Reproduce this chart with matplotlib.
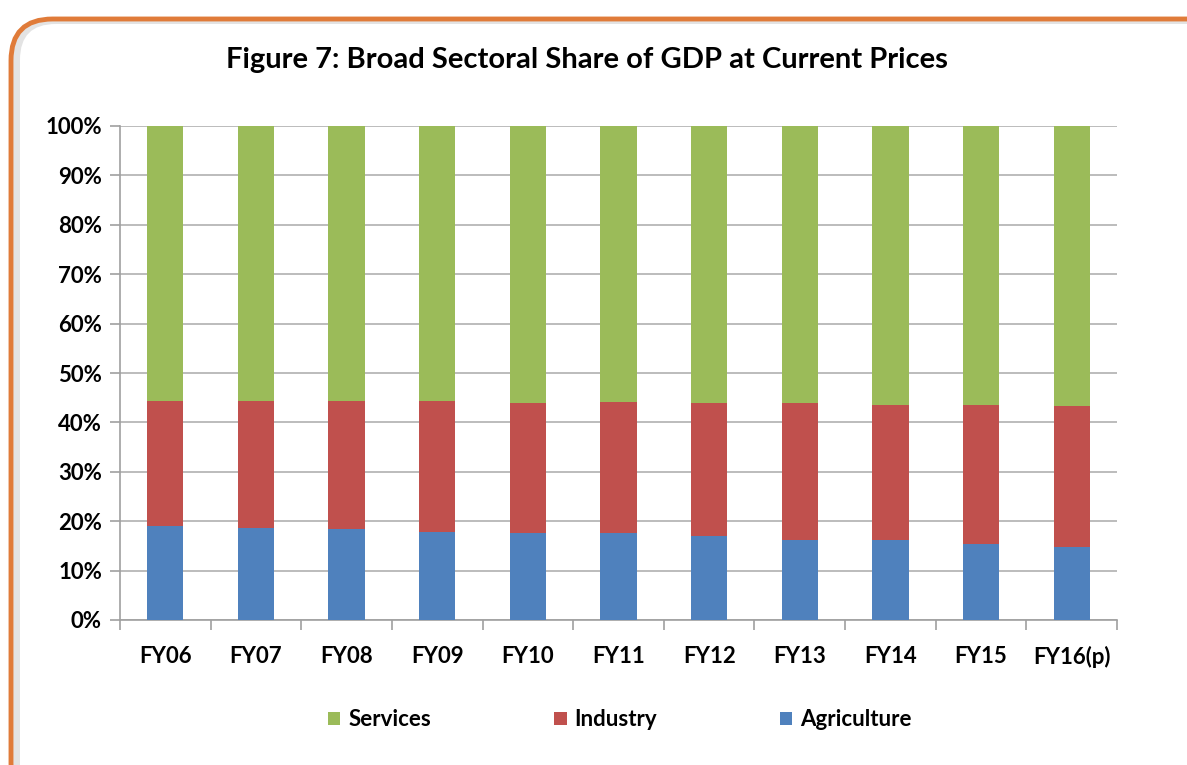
import numpy as np
import matplotlib.pyplot as plt
from matplotlib.patches import FancyBboxPatch
from matplotlib.ticker import FixedLocator, PercentFormatter

plt.rcParams['font.family'] = ['Lato', 'DejaVu Sans']

years = ['FY06', 'FY07', 'FY08', 'FY09', 'FY10', 'FY11',
         'FY12', 'FY13', 'FY14', 'FY15', 'FY16(p)']
agriculture = [19.0, 18.7, 18.4, 17.9, 17.6, 17.6, 17.1, 16.1, 16.1, 15.3, 14.8]
industry_top = [44.4, 44.4, 44.4, 44.4, 43.9, 44.1, 43.9, 43.9, 43.6, 43.6, 43.3]
industry = [t - a for t, a in zip(industry_top, agriculture)]
services = [100 - t for t in industry_top]

c_agri = '#4f81bd'
c_ind = '#c0504d'
c_serv = '#9bbb59'

fig = plt.figure(figsize=(11.87, 7.65), dpi=100)

# rounded orange frame with a soft inner shadow on the left
W, H = 1187, 765
frame = FancyBboxPatch((11 / W, -40 / H), 1250 / W, 786 / H,
                       boxstyle='round,pad=0,rounding_size=0.035',
                       transform=fig.transFigure, facecolor='#e3e3e3',
                       edgecolor='#e07b39', linewidth=3.5, zorder=0,
                       mutation_aspect=W / H)
fig.patches.append(frame)
inner = FancyBboxPatch((20 / W, -40 / H), 1250 / W, 781 / H,
                       boxstyle='round,pad=0,rounding_size=0.03',
                       transform=fig.transFigure, facecolor='white',
                       edgecolor='none', zorder=0.5, mutation_aspect=W / H)
fig.patches.append(inner)

ax = fig.add_axes([120 / W, 1 - 620 / H, 997 / W, 494 / H])
ax.set_zorder(2)
ax.patch.set_alpha(0)

x = np.arange(len(years))
w = 0.4
b1 = ax.bar(x, agriculture, w, color=c_agri, label='Agriculture', zorder=3)
b2 = ax.bar(x, industry, w, bottom=agriculture, color=c_ind, label='Industry', zorder=3)
b3 = ax.bar(x, services, w, bottom=industry_top, color=c_serv, label='Services', zorder=3)

ax.set_xlim(-0.5, len(years) - 0.5)
ax.set_ylim(0, 100)
ax.set_yticks(np.arange(0, 101, 10))
ax.yaxis.set_major_formatter(PercentFormatter(decimals=0))
ax.yaxis.grid(True, color='#b0b0b0', linewidth=1.2, zorder=0)
ax.set_axisbelow(True)

ax.set_xticks(x)
ax.set_xticklabels(years)
ax.xaxis.set_minor_locator(FixedLocator(np.arange(-0.5, len(years), 1)))
ax.tick_params(axis='x', which='major', length=0, pad=19)
ax.tick_params(axis='x', which='minor', length=7, color='#a0a0a0', width=1.2)
ax.tick_params(axis='y', length=7, color='#a0a0a0', width=1.2, pad=6)
for lab in ax.get_xticklabels() + ax.get_yticklabels():
    lab.set_fontsize(16)
    lab.set_fontweight('bold')

for s in ['top', 'right']:
    ax.spines[s].set_visible(False)
for s in ['left', 'bottom']:
    ax.spines[s].set_color('#a0a0a0')
    ax.spines[s].set_linewidth(1.2)

fig.text(587 / W, 1 - 60 / H, 'Figure 7: Broad Sectoral Share of GDP at Current Prices',
         ha='center', va='center', fontsize=21, fontweight='bold')

leg = fig.legend(handles=[b3, b2, b1], labels=['Services', 'Industry', 'Agriculture'],
                 loc='center', bbox_to_anchor=(620 / W, 1 - 720 / H), ncol=3,
                 frameon=False, handlelength=0.55, handleheight=0.55,
                 columnspacing=5.55, handletextpad=0.35,
                 prop={'size': 16, 'weight': 'bold'})

fig.savefig('out.png', dpi=100)
